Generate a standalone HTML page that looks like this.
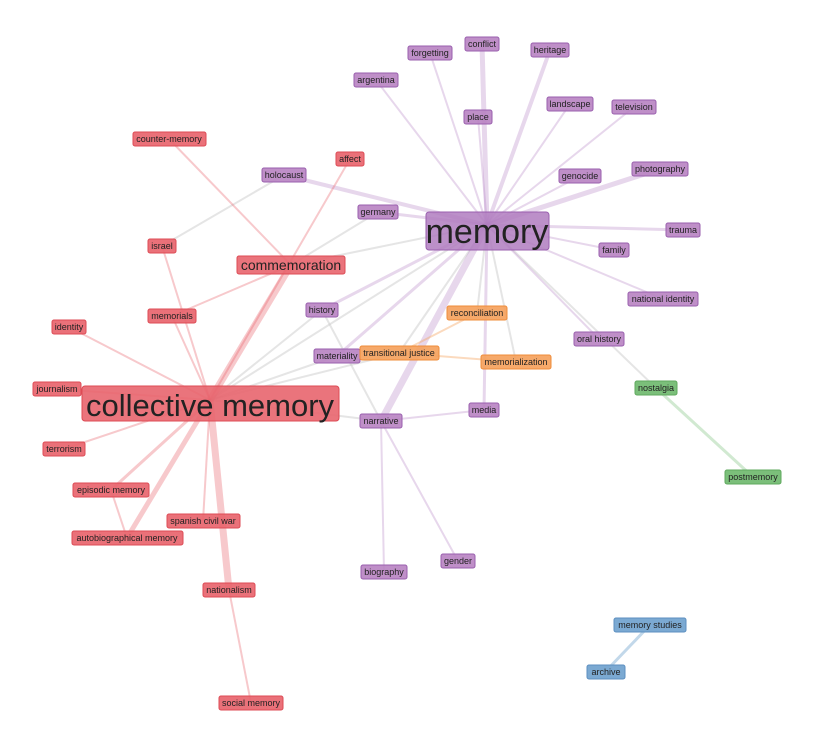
<!DOCTYPE html>
<html><head><meta charset="utf-8"><style>
html,body{margin:0;padding:0;background:#fff;}
svg{display:block;font-family:"Liberation Sans",sans-serif;}
</style></head><body>
<svg width="832" height="742" viewBox="0 0 832 742" xmlns="http://www.w3.org/2000/svg">
<g stroke-linecap="butt" fill="none">
<g stroke="#ccc" stroke-opacity="0.5" stroke-width="2">
<line x1="487" y1="225" x2="210" y2="400"/>
<line x1="487" y1="225" x2="291" y2="265"/>
<line x1="487" y1="225" x2="656" y2="388"/>
<line x1="487" y1="225" x2="516" y2="362"/>
<line x1="487" y1="225" x2="477" y2="313"/>
<line x1="487" y1="225" x2="399" y2="353"/>
<line x1="284" y1="175" x2="162" y2="246"/>
<line x1="322" y1="310" x2="381" y2="421"/>
<line x1="322" y1="310" x2="210" y2="400"/>
<line x1="337" y1="356" x2="210" y2="400"/>
<line x1="210" y1="400" x2="399" y2="353"/>
<line x1="210" y1="400" x2="381" y2="421"/>
<line x1="378" y1="212" x2="291" y2="265"/>
</g>
<g stroke="#b07cc0" stroke-opacity="0.3">
<line x1="487" y1="225" x2="482" y2="44" stroke-width="5"/>
<line x1="487" y1="225" x2="430" y2="53" stroke-width="2"/>
<line x1="487" y1="225" x2="550" y2="50" stroke-width="4"/>
<line x1="487" y1="225" x2="376" y2="80" stroke-width="2"/>
<line x1="487" y1="225" x2="478" y2="117" stroke-width="2"/>
<line x1="487" y1="225" x2="570" y2="104" stroke-width="2"/>
<line x1="487" y1="225" x2="634" y2="107" stroke-width="2"/>
<line x1="487" y1="225" x2="284" y2="175" stroke-width="4"/>
<line x1="487" y1="225" x2="580" y2="176" stroke-width="2"/>
<line x1="487" y1="225" x2="660" y2="169" stroke-width="5"/>
<line x1="487" y1="225" x2="378" y2="212" stroke-width="3"/>
<line x1="487" y1="225" x2="683" y2="230" stroke-width="3"/>
<line x1="487" y1="225" x2="614" y2="250" stroke-width="2"/>
<line x1="487" y1="225" x2="663" y2="299" stroke-width="2"/>
<line x1="487" y1="225" x2="322" y2="310" stroke-width="3"/>
<line x1="487" y1="225" x2="599" y2="339" stroke-width="2"/>
<line x1="487" y1="225" x2="337" y2="356" stroke-width="3"/>
<line x1="487" y1="225" x2="381" y2="421" stroke-width="7"/>
<line x1="487" y1="225" x2="484" y2="410" stroke-width="3"/>
<line x1="381" y1="421" x2="384" y2="572" stroke-width="2"/>
<line x1="381" y1="421" x2="458" y2="561" stroke-width="2"/>
<line x1="381" y1="421" x2="484" y2="410" stroke-width="2"/>
</g>
<g stroke="#e8656e" stroke-opacity="0.35">
<line x1="210" y1="400" x2="350" y2="159" stroke-width="2"/>
<line x1="210" y1="400" x2="162" y2="246" stroke-width="2"/>
<line x1="210" y1="400" x2="291" y2="265" stroke-width="7"/>
<line x1="210" y1="400" x2="172" y2="316" stroke-width="2"/>
<line x1="210" y1="400" x2="69" y2="327" stroke-width="2"/>
<line x1="210" y1="400" x2="57" y2="389" stroke-width="2"/>
<line x1="210" y1="400" x2="64" y2="449" stroke-width="2"/>
<line x1="210" y1="400" x2="111" y2="490" stroke-width="3"/>
<line x1="210" y1="400" x2="203" y2="521" stroke-width="2"/>
<line x1="210" y1="400" x2="127" y2="538" stroke-width="5"/>
<line x1="210" y1="400" x2="229" y2="590" stroke-width="7"/>
<line x1="229" y1="590" x2="251" y2="703" stroke-width="2"/>
<line x1="111" y1="490" x2="127" y2="538" stroke-width="2"/>
<line x1="291" y1="265" x2="172" y2="316" stroke-width="2"/>
<line x1="169" y1="139" x2="291" y2="265" stroke-width="2"/>
</g>
<g stroke="#f5a25d" stroke-opacity="0.4" stroke-width="2">
<line x1="477" y1="313" x2="399" y2="353"/>
<line x1="399" y1="353" x2="516" y2="362"/>
</g>
<line x1="656" y1="388" x2="753" y2="477" stroke="#7bbf7a" stroke-opacity="0.35" stroke-width="3"/>
<line x1="650" y1="625" x2="605" y2="672" stroke="#78a8d0" stroke-opacity="0.45" stroke-width="3"/>
</g>

<g font-size="9" fill="#222" text-anchor="middle">
<rect x="426" y="212" width="123" height="38" rx="3" fill="#b07cc0" fill-opacity="0.85" stroke="#9a5fae"/>
<text x="487" y="243" font-size="34" fill="#222">memory</text>
<g fill="#b883c2" fill-opacity="0.9" stroke="#9a5fae" stroke-width="1">
<rect x="465" y="37" width="34" height="14" rx="2"/>
<rect x="408" y="46" width="44" height="14" rx="2"/>
<rect x="531" y="43" width="38" height="14" rx="2"/>
<rect x="354" y="73" width="44" height="14" rx="2"/>
<rect x="464" y="110" width="28" height="14" rx="2"/>
<rect x="547" y="97" width="46" height="14" rx="2"/>
<rect x="612" y="100" width="44" height="14" rx="2"/>
<rect x="262" y="168" width="44" height="14" rx="2"/>
<rect x="559" y="169" width="42" height="14" rx="2"/>
<rect x="632" y="162" width="56" height="14" rx="2"/>
<rect x="358" y="205" width="40" height="14" rx="2"/>
<rect x="666" y="223" width="34" height="14" rx="2"/>
<rect x="599" y="243" width="30" height="14" rx="2"/>
<rect x="628" y="292" width="70" height="14" rx="2"/>
<rect x="306" y="303" width="32" height="14" rx="2"/>
<rect x="574" y="332" width="50" height="14" rx="2"/>
<rect x="314" y="349" width="46" height="14" rx="2"/>
<rect x="360" y="414" width="42" height="14" rx="2"/>
<rect x="469" y="403" width="30" height="14" rx="2"/>
<rect x="361" y="565" width="46" height="14" rx="2"/>
<rect x="441" y="554" width="34" height="14" rx="2"/>
</g>
<text x="482" y="47">conflict</text>
<text x="430" y="56">forgetting</text>
<text x="550" y="53">heritage</text>
<text x="376" y="83">argentina</text>
<text x="478" y="120">place</text>
<text x="570" y="107">landscape</text>
<text x="634" y="110">television</text>
<text x="284" y="178">holocaust</text>
<text x="580" y="179">genocide</text>
<text x="660" y="172">photography</text>
<text x="378" y="215">germany</text>
<text x="683" y="233">trauma</text>
<text x="614" y="253">family</text>
<text x="663" y="302">national identity</text>
<text x="322" y="313">history</text>
<text x="599" y="342">oral history</text>
<text x="337" y="359">materiality</text>
<text x="381" y="424">narrative</text>
<text x="484" y="413">media</text>
<text x="384" y="575">biography</text>
<text x="458" y="564">gender</text>

<g fill="#f5a25d" fill-opacity="0.92" stroke="#ef8c3a">
<rect x="447" y="306" width="60" height="14" rx="2"/>
<rect x="360" y="346" width="79" height="14" rx="2"/>
<rect x="481" y="355" width="70" height="14" rx="2"/>
</g>
<text x="477" y="316">reconciliation</text>
<text x="399" y="356">transitional justice</text>
<text x="516" y="365">memorialization</text>

<g fill="#7bbf7a" stroke="#5fa85e">
<rect x="635" y="381" width="42" height="14" rx="2"/>
<rect x="725" y="470" width="56" height="14" rx="2"/>
</g>
<text x="656" y="391">nostalgia</text>
<text x="753" y="480">postmemory</text>
<g fill="#7ba9d2" stroke="#5c8fc0">
<rect x="614" y="618" width="72" height="14" rx="2"/>
<rect x="587" y="665" width="38" height="14" rx="2"/>
</g>
<text x="650" y="628">memory studies</text>
<text x="606" y="675">archive</text>

<rect x="82" y="386" width="257" height="35" rx="3" fill="#e8656e" fill-opacity="0.9" stroke="#dd4b55"/>
<text x="210" y="416" font-size="31">collective memory</text>
<rect x="237" y="256" width="108" height="18" rx="2" fill="#e8656e" fill-opacity="0.9" stroke="#dd4b55"/>
<text x="291" y="270" font-size="14">commemoration</text>
<g fill="#e8656e" fill-opacity="0.92" stroke="#dd4b55">
<rect x="133" y="132" width="73" height="14" rx="2"/>
<rect x="336" y="152" width="28" height="14" rx="2"/>
<rect x="148" y="239" width="28" height="14" rx="2"/>
<rect x="148" y="309" width="48" height="14" rx="2"/>
<rect x="52" y="320" width="34" height="14" rx="2"/>
<rect x="33" y="382" width="48" height="14" rx="2"/>
<rect x="43" y="442" width="42" height="14" rx="2"/>
<rect x="73" y="483" width="76" height="14" rx="2"/>
<rect x="167" y="514" width="73" height="14" rx="2"/>
<rect x="72" y="531" width="111" height="14" rx="2"/>
<rect x="203" y="583" width="52" height="14" rx="2"/>
<rect x="219" y="696" width="64" height="14" rx="2"/>
</g>
<text x="169" y="142">counter-memory</text>
<text x="350" y="162">affect</text>
<text x="162" y="249">israel</text>
<text x="172" y="319">memorials</text>
<text x="69" y="330">identity</text>
<text x="57" y="392">journalism</text>
<text x="64" y="452">terrorism</text>
<text x="111" y="493">episodic memory</text>
<text x="203" y="524">spanish civil war</text>
<text x="127" y="541">autobiographical memory</text>
<text x="229" y="593">nationalism</text>
<text x="251" y="706">social memory</text>
</g>
</svg>
</body></html>
